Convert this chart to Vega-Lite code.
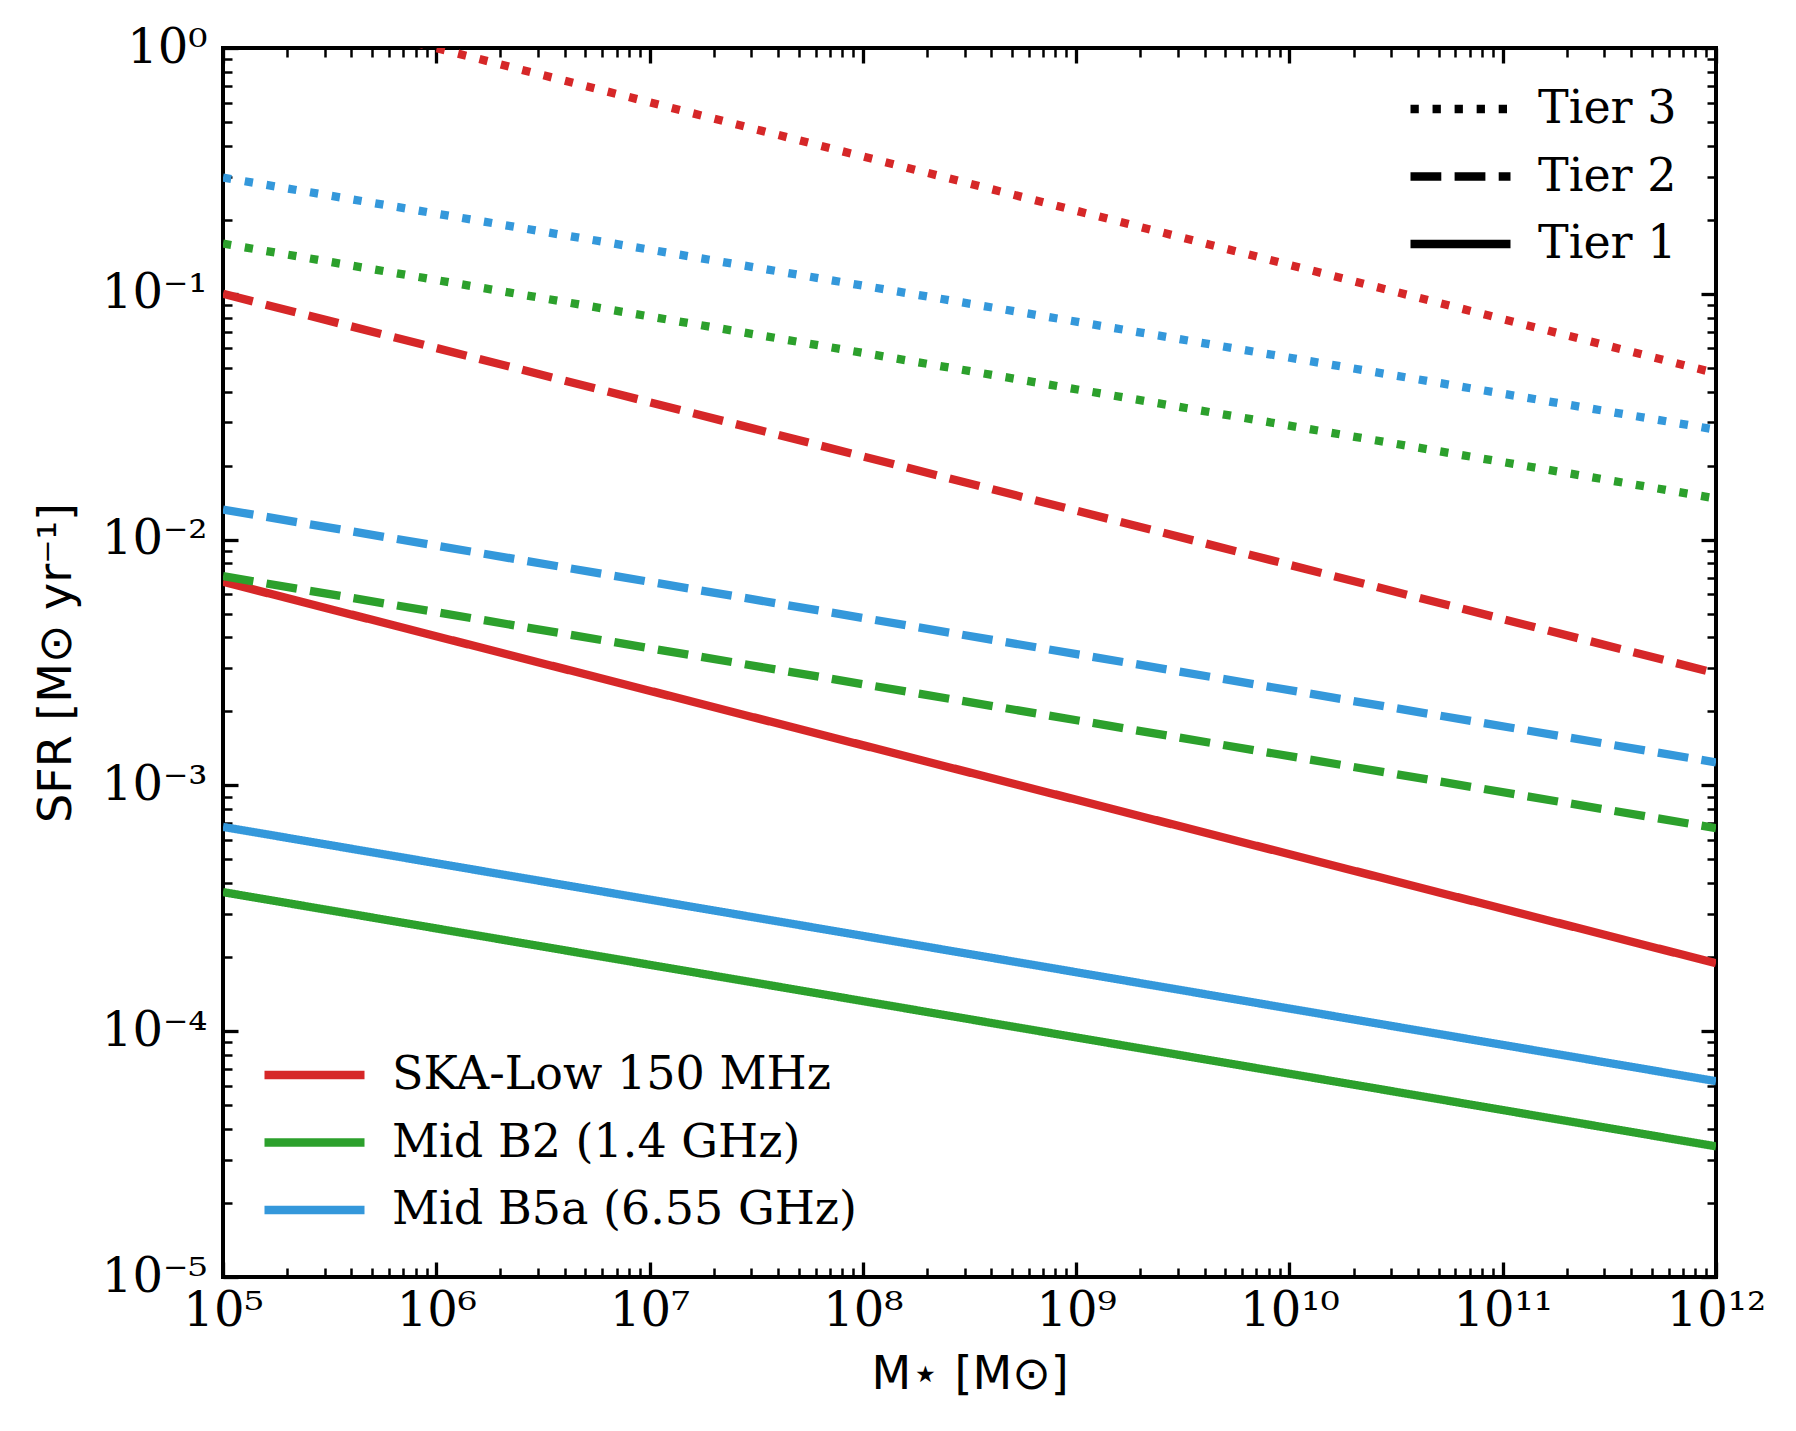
{
  "$schema": "https://vega.github.io/schema/vega-lite/v6.json",
  "width": 1493,
  "height": 1229,
  "autosize": {"type": "none"},
  "padding": {"left": 223, "top": 48, "right": 80, "bottom": 154},
  "background": "white",
  "config": {
    "view": {"stroke": "black", "strokeWidth": 4},
    "axis": {
      "domain": false,
      "grid": false,
      "tickColor": "black",
      "labelColor": "black",
      "labelFont": "DejaVu Serif",
      "labelFontSize": 48,
      "titleColor": "black",
      "titleFont": "DejaVu Sans",
      "titleFontSize": 46,
      "titleFontWeight": "normal"
    },
    "legend": {
      "padding": 0,
      "symbolType": "stroke",
      "symbolSize": 10000,
      "symbolStrokeWidth": 8.3,
      "labelFont": "DejaVu Serif",
      "labelFontSize": 46,
      "labelColor": "black",
      "labelOffset": 23,
      "labelLimit": 0,
      "clipHeight": 46,
      "rowPadding": 21.5
    }
  },
  "data": {
    "values": [
      {"band": "SKA-Low 150 MHz", "tier": "Tier 1", "mass": 1e5, "sfr": 0.00674},
      {"band": "SKA-Low 150 MHz", "tier": "Tier 1", "mass": 1e12, "sfr": 0.000189},
      {"band": "SKA-Low 150 MHz", "tier": "Tier 2", "mass": 1e5, "sfr": 0.1},
      {"band": "SKA-Low 150 MHz", "tier": "Tier 2", "mass": 1e12, "sfr": 0.00286},
      {"band": "SKA-Low 150 MHz", "tier": "Tier 3", "mass": 1e5, "sfr": 1.66},
      {"band": "SKA-Low 150 MHz", "tier": "Tier 3", "mass": 1e12, "sfr": 0.0475},
      {"band": "Mid B2 (1.4 GHz)", "tier": "Tier 1", "mass": 1e5, "sfr": 0.000368},
      {"band": "Mid B2 (1.4 GHz)", "tier": "Tier 1", "mass": 1e12, "sfr": 0.000034},
      {"band": "Mid B2 (1.4 GHz)", "tier": "Tier 2", "mass": 1e5, "sfr": 0.0071},
      {"band": "Mid B2 (1.4 GHz)", "tier": "Tier 2", "mass": 1e12, "sfr": 0.00067},
      {"band": "Mid B2 (1.4 GHz)", "tier": "Tier 3", "mass": 1e5, "sfr": 0.16},
      {"band": "Mid B2 (1.4 GHz)", "tier": "Tier 3", "mass": 1e12, "sfr": 0.0147},
      {"band": "Mid B5a (6.55 GHz)", "tier": "Tier 1", "mass": 1e5, "sfr": 0.000678},
      {"band": "Mid B5a (6.55 GHz)", "tier": "Tier 1", "mass": 1e12, "sfr": 0.0000626},
      {"band": "Mid B5a (6.55 GHz)", "tier": "Tier 2", "mass": 1e5, "sfr": 0.01325},
      {"band": "Mid B5a (6.55 GHz)", "tier": "Tier 2", "mass": 1e12, "sfr": 0.00124},
      {"band": "Mid B5a (6.55 GHz)", "tier": "Tier 3", "mass": 1e5, "sfr": 0.297},
      {"band": "Mid B5a (6.55 GHz)", "tier": "Tier 3", "mass": 1e12, "sfr": 0.028}
    ]
  },
  "encoding": {
    "color": {
      "field": "band",
      "type": "nominal",
      "scale": {
        "domain": ["SKA-Low 150 MHz", "Mid B2 (1.4 GHz)", "Mid B5a (6.55 GHz)"],
        "range": ["#d62728", "#2ca02c", "#3498db"]
      },
      "legend": {"orient": "none", "legendX": 37, "legendY": 1004, "title": null}
    },
    "strokeDash": {
      "field": "tier",
      "type": "nominal",
      "scale": {
        "domain": ["Tier 3", "Tier 2", "Tier 1"],
        "range": [[8.3, 13.75], [30.8, 13.3], [1, 0]]
      },
      "legend": {"orient": "none", "legendX": 1183, "legendY": 38, "title": null, "symbolStrokeColor": "black"}
    }
  },
  "layer": [
    {
      "transform": [{"filter": "datum.band === 'SKA-Low 150 MHz'"}],
      "mark": {"type": "line", "strokeWidth": 8.3, "clip": true, "strokeCap": "butt"},
      "encoding": {
        "x": {
          "field": "mass", "type": "quantitative",
          "scale": {"type": "log", "domain": [1e5, 1e12], "nice": false},
          "axis": {
            "orient": "bottom",
            "values": [1e5, 1e6, 1e7, 1e8, 1e9, 1e10, 1e11, 1e12],
            "tickSize": -15, "tickWidth": 3.3, "labelPadding": 25,
            "labelFlush": false, "labelOverlap": false,
            "labelExpr": "['10⁵','10⁶','10⁷','10⁸','10⁹','10¹⁰','10¹¹','10¹²'][round(log(datum.value)/LN10) - 5]",
            "title": "M⋆ [M⊙]", "titlePadding": 17
          }
        },
        "y": {
          "field": "sfr", "type": "quantitative",
          "scale": {"type": "log", "domain": [1e-5, 1], "nice": false},
          "axis": {
            "orient": "left",
            "values": [1e-5, 1e-4, 1e-3, 1e-2, 1e-1, 1],
            "tickSize": -15, "tickWidth": 3.3, "labelPadding": 31,
            "labelFlush": false, "labelOverlap": false,
            "labelExpr": "['10⁻⁵','10⁻⁴','10⁻³','10⁻²','10⁻¹','10⁰'][round(log(datum.value)/LN10) + 5]",
            "title": "SFR [M⊙ yr⁻¹]", "titlePadding": 21
          }
        }
      }
    },
    {
      "transform": [{"filter": "datum.band === 'Mid B2 (1.4 GHz)'"}],
      "mark": {"type": "line", "strokeWidth": 8.3, "clip": true, "strokeCap": "butt"},
      "encoding": {
        "x": {
          "field": "mass", "type": "quantitative",
          "scale": {"type": "log", "domain": [1e5, 1e12], "nice": false},
          "axis": {
            "orient": "bottom", "labels": false, "title": null,
            "tickSize": -9, "tickWidth": 2.5,
            "values": [2e5,3e5,4e5,5e5,6e5,7e5,8e5,9e5,2e6,3e6,4e6,5e6,6e6,7e6,8e6,9e6,2e7,3e7,4e7,5e7,6e7,7e7,8e7,9e7,2e8,3e8,4e8,5e8,6e8,7e8,8e8,9e8,2e9,3e9,4e9,5e9,6e9,7e9,8e9,9e9,2e10,3e10,4e10,5e10,6e10,7e10,8e10,9e10,2e11,3e11,4e11,5e11,6e11,7e11,8e11,9e11]
          }
        },
        "y": {
          "field": "sfr", "type": "quantitative",
          "scale": {"type": "log", "domain": [1e-5, 1], "nice": false},
          "axis": {
            "orient": "left", "labels": false, "title": null,
            "tickSize": -9, "tickWidth": 2.5,
            "values": [2e-5,3e-5,4e-5,5e-5,6e-5,7e-5,8e-5,9e-5,2e-4,3e-4,4e-4,5e-4,6e-4,7e-4,8e-4,9e-4,2e-3,3e-3,4e-3,5e-3,6e-3,7e-3,8e-3,9e-3,2e-2,3e-2,4e-2,5e-2,6e-2,7e-2,8e-2,9e-2,0.2,0.3,0.4,0.5,0.6,0.7,0.8,0.9]
          }
        }
      }
    },
    {
      "transform": [{"filter": "datum.band === 'Mid B5a (6.55 GHz)' && datum.tier !== 'Tier 3'"}],
      "mark": {"type": "line", "strokeWidth": 8.3, "clip": true, "strokeCap": "butt"},
      "encoding": {
        "x": {
          "field": "mass", "type": "quantitative",
          "scale": {"type": "log", "domain": [1e5, 1e12], "nice": false},
          "axis": {
            "orient": "top", "labels": false, "title": null,
            "tickSize": -15, "tickWidth": 3.3,
            "values": [1e5, 1e6, 1e7, 1e8, 1e9, 1e10, 1e11, 1e12]
          }
        },
        "y": {
          "field": "sfr", "type": "quantitative",
          "scale": {"type": "log", "domain": [1e-5, 1], "nice": false},
          "axis": {
            "orient": "right", "labels": false, "title": null,
            "tickSize": -15, "tickWidth": 3.3,
            "values": [1e-5, 1e-4, 1e-3, 1e-2, 1e-1, 1]
          }
        }
      }
    },
    {
      "transform": [{"filter": "datum.band === 'Mid B5a (6.55 GHz)' && datum.tier === 'Tier 3'"}],
      "mark": {"type": "line", "strokeWidth": 8.3, "clip": true, "strokeCap": "butt"},
      "encoding": {
        "x": {
          "field": "mass", "type": "quantitative",
          "scale": {"type": "log", "domain": [1e5, 1e12], "nice": false},
          "axis": {
            "orient": "top", "labels": false, "title": null,
            "tickSize": -9, "tickWidth": 2.5,
            "values": [2e5,3e5,4e5,5e5,6e5,7e5,8e5,9e5,2e6,3e6,4e6,5e6,6e6,7e6,8e6,9e6,2e7,3e7,4e7,5e7,6e7,7e7,8e7,9e7,2e8,3e8,4e8,5e8,6e8,7e8,8e8,9e8,2e9,3e9,4e9,5e9,6e9,7e9,8e9,9e9,2e10,3e10,4e10,5e10,6e10,7e10,8e10,9e10,2e11,3e11,4e11,5e11,6e11,7e11,8e11,9e11]
          }
        },
        "y": {
          "field": "sfr", "type": "quantitative",
          "scale": {"type": "log", "domain": [1e-5, 1], "nice": false},
          "axis": {
            "orient": "right", "labels": false, "title": null,
            "tickSize": -9, "tickWidth": 2.5,
            "values": [2e-5,3e-5,4e-5,5e-5,6e-5,7e-5,8e-5,9e-5,2e-4,3e-4,4e-4,5e-4,6e-4,7e-4,8e-4,9e-4,2e-3,3e-3,4e-3,5e-3,6e-3,7e-3,8e-3,9e-3,2e-2,3e-2,4e-2,5e-2,6e-2,7e-2,8e-2,9e-2,0.2,0.3,0.4,0.5,0.6,0.7,0.8,0.9]
          }
        }
      }
    }
  ],
  "resolve": {"axis": {"x": "independent", "y": "independent"}}
}
